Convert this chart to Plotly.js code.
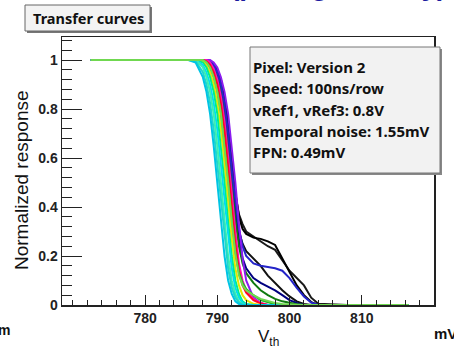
<!DOCTYPE html>
<html>
<head>
<meta charset="utf-8">
<script src="https://cdn.plot.ly/plotly-3.0.1.min.js"></script>
<style>html,body{margin:0;padding:0;background:#fff;}#plot{width:454px;height:348px;}</style>
</head>
<body>
<div id="plot"></div>
<script>
// Shared threshold grid (mV)
var vth = [772.5,780,786,787,788,788.5,789,789.5,790,790.5,791,791.5,792,792.5,793,793.5,794,795,796,797,798,799,800,801,802,803,804,808,812,816.5];

// Normalized response for each pixel curve
var cyanA    = [1,1,1,0.99,0.93,0.87,0.78,0.65,0.5,0.34,0.2,0.1,0.045,0.015,0.004,0,0,0,0,0,0,0,0,0,0,0,0,0,0,0];
var turqA    = [1,1,1,0.995,0.95,0.9,0.825,0.715,0.575,0.42,0.27,0.15,0.07,0.03,0.01,0.002,0,0,0,0,0,0,0,0,0,0,0,0,0,0];
var aquaA    = [1,1,1,1,0.97,0.93,0.87,0.78,0.65,0.5,0.34,0.2,0.1,0.045,0.015,0.004,0,0,0,0,0,0,0,0,0,0,0,0,0,0];
var cyanB    = [1,1,1,1,0.98,0.95,0.9,0.825,0.715,0.575,0.42,0.27,0.15,0.07,0.03,0.01,0.002,0,0,0,0,0,0,0,0,0,0,0,0,0];
var springA  = [1,1,1,1,0.99,0.97,0.93,0.87,0.78,0.65,0.5,0.34,0.2,0.1,0.045,0.015,0.004,0,0,0,0,0,0,0,0,0,0,0,0,0];
var yellowA  = [1,1,1,1,0.995,0.98,0.95,0.9,0.825,0.715,0.575,0.42,0.27,0.15,0.08,0.04,0.02,0.005,0,0,0,0,0,0,0,0,0,0,0,0];
var greenA   = [1,1,1,1,1,0.99,0.97,0.93,0.87,0.78,0.65,0.5,0.34,0.21,0.13,0.09,0.065,0.04,0.02,0.01,0.003,0,0,0,0,0,0,0,0,0];
var redA     = [1,1,1,1,1,0.995,0.98,0.95,0.9,0.82,0.71,0.56,0.4,0.25,0.14,0.08,0.05,0.02,0.006,0,0,0,0,0,0,0,0,0,0,0];
var magentaA = [1,1,1,1,1,1,0.99,0.965,0.92,0.85,0.75,0.61,0.46,0.3,0.17,0.1,0.06,0.025,0.008,0,0,0,0,0,0,0,0,0,0,0];
var lightGrn = [1,1,1,1,1,0.99,0.97,0.93,0.87,0.78,0.65,0.5,0.34,0.21,0.12,0.08,0.06,0.04,0.025,0.015,0.008,0.004,0.002,0,0,0,0,0,0,0];
var darkGrnA = [1,1,1,1,1,1,0.99,0.97,0.93,0.87,0.78,0.65,0.5,0.35,0.24,0.17,0.13,0.09,0.06,0.04,0.025,0.015,0.008,0.003,0,0,0,0,0,0];
var navyA    = [1,1,1,1,1,1,0.995,0.98,0.95,0.9,0.82,0.7,0.56,0.4,0.27,0.19,0.15,0.11,0.09,0.075,0.06,0.04,0.02,0.008,0,0,0,0,0,0];
var blueA    = [1,1,1,1,1,1,0.995,0.98,0.95,0.9,0.82,0.7,0.55,0.42,0.31,0.24,0.2,0.17,0.16,0.155,0.15,0.14,0.11,0.07,0.035,0.01,0,0,0,0];
var purpleA  = [1,1,1,1,1,1,1,0.99,0.97,0.93,0.87,0.78,0.65,0.5,0.33,0.19,0.1,0.03,0.008,0,0,0,0,0,0,0,0,0,0,0];
var blackA   = [1,1,1,1,1,1,0.995,0.98,0.96,0.92,0.85,0.75,0.6,0.46,0.36,0.31,0.29,0.275,0.27,0.26,0.245,0.19,0.13,0.08,0.04,0.012,0,0,0,0];
var blackB   = [1,1,1,1,1,1,0.995,0.98,0.955,0.91,0.84,0.73,0.58,0.45,0.37,0.33,0.3,0.28,0.26,0.24,0.225,0.18,0.14,0.11,0.08,0.03,0.005,0,0,0];
var blackC   = [1,1,1,1,1,1,0.99,0.975,0.95,0.9,0.82,0.7,0.55,0.4,0.3,0.25,0.22,0.19,0.16,0.12,0.09,0.06,0.035,0.015,0.004,0,0,0,0,0];

var curves = [blackC, blackB, blackA, navyA, darkGrnA, blueA, purpleA, magentaA, redA, greenA, yellowA, springA, cyanB, aquaA, turqA, cyanA, lightGrn];
var colors = ['#111111','#1a1a1a','#000000','#000080','#107a10','#2424c8','#8a1cf0','#ff10c0','#ff0a1e','#22b822','#e6e600','#00f080','#00dcf0','#3cf0b0','#20d8c8','#00c4e4','#70d850'];

var traces = curves.map(function(y, i){
  return {x: vth, y: y, type: 'scatter', mode: 'lines',
          line: {color: colors[i], width: 2}, hoverinfo: 'skip', showlegend: false};
});

// pixel -> paper helpers (plot area 62..434 x 37..305)
function px(x){ return (x-62)/372; }
function py(y){ return (305-y)/268; }

var infoLines = ['Pixel: Version 2','Speed: 100ns/row','vRef1, vRef3: 0.8V','Temporal noise: 1.55mV','FPN: 0.49mV'];
var boxFont = {family: 'Noto Sans, DejaVu Sans', size: 15, color: '#111', weight: 'bold'};

var annotations = [
  {xref:'paper', yref:'paper', x: px(88), y: py(18), text:'Transfer curves', showarrow:false,
   xanchor:'center', yanchor:'middle', font: {family:'Noto Sans, DejaVu Sans', size:14.5, color:'#111', weight:'bold'}},
  {xref:'paper', yref:'paper', x: px(22), y: py(180), text:'Normalized response', showarrow:false,
   textangle:-90, xanchor:'center', yanchor:'middle', font:{family:'Liberation Sans, Arial', size:19, color:'#111'}},
  {xref:'paper', yref:'paper', x: px(268), y: py(338), text:'V<sub>th</sub>', showarrow:false,
   xanchor:'center', yanchor:'middle', font:{family:'Liberation Sans, Arial', size:17, color:'#111'}},
  {xref:'paper', yref:'paper', x: px(432), y: py(333), text:'mV', showarrow:false,
   xanchor:'left', yanchor:'middle', font:{family:'Liberation Sans, Arial', size:15, color:'#111', weight:'bold'}},
  {xref:'paper', yref:'paper', x: px(-4), y: py(330), text:'m', showarrow:false,
   xanchor:'left', yanchor:'middle', font:{family:'Liberation Sans, Arial', size:14, color:'#111', weight:'bold'}},
  {xref:'paper', yref:'paper', x: px(228), y: py(-15), text:'(pixel geometry)', showarrow:false,
   xanchor:'left', yanchor:'middle', font:{family:'Liberation Sans, Arial', size:28, color:'#1c1ca0', weight:'bold'}}
];
infoLines.forEach(function(t, i){
  annotations.push({xref:'paper', yref:'paper', x: px(251), y: py(67 + i*21.3), text: t, showarrow:false,
    xanchor:'left', yanchor:'middle', font: boxFont});
});

var shapes = [
  {type:'rect', xref:'paper', yref:'paper', x0:px(27), x1:px(152), y0:py(7), y1:py(33), fillcolor:'#777', line:{width:0}, layer:'above'},
  {type:'rect', xref:'paper', yref:'paper', x0:px(25), x1:px(150), y0:py(5), y1:py(31), fillcolor:'#f3f3f3', line:{color:'#666', width:1}, layer:'above'},
  {type:'rect', xref:'paper', yref:'paper', x0:px(252), x1:px(442), y0:py(49), y1:py(175), fillcolor:'#888', line:{width:0}, layer:'above'},
  {type:'rect', xref:'paper', yref:'paper', x0:px(250), x1:px(440), y0:py(47), y1:py(173), fillcolor:'#f2f2f2', line:{color:'#777', width:1}, layer:'above'}
];

var layout = {
  width: 454, height: 348,
  margin: {l: 62, r: 20, t: 37, b: 43, pad: 0},
  paper_bgcolor: '#ffffff', plot_bgcolor: '#ffffff',
  showlegend: false,
  xaxis: {
    range: [768.5, 820], tickmode: 'array', tickvals: [780, 790, 800, 810], ticktext: ['780','790','800','810'],
    ticks: 'inside', ticklen: 10, tickwidth: 1, tickcolor: '#222',
    minor: {tickmode: 'linear', tick0: 780, dtick: 2, ticks: 'inside', ticklen: 5, tickwidth: 1, tickcolor: '#222', showgrid: false},
    showgrid: false, zeroline: false, showline: true, mirror: true, linecolor: '#222', linewidth: 1.5,
    tickfont: {family: 'Liberation Sans, Arial', size: 14, color: '#222', weight: 'bold'}
  },
  yaxis: {
    range: [0, 1.094], tickmode: 'linear', tick0: 0, dtick: 0.2,
    ticks: 'inside', ticklen: 20, tickwidth: 1, tickcolor: '#222',
    minor: {tickmode: 'linear', tick0: 0, dtick: 0.04, ticks: 'inside', ticklen: 10, tickwidth: 1, tickcolor: '#222', showgrid: false},
    showgrid: false, zeroline: false, showline: true, mirror: true, linecolor: '#222', linewidth: 1.5,
    tickfont: {family: 'Liberation Sans, Arial', size: 14, color: '#222', weight: 'bold'}
  },
  annotations: annotations,
  shapes: shapes
};

Plotly.newPlot('plot', traces, layout, {displayModeBar: false, staticPlot: true});
</script>
</body>
</html>
